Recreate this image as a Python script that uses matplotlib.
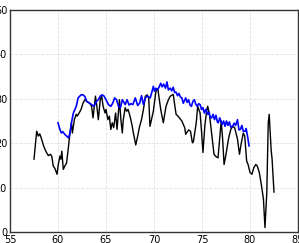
import numpy as np
import matplotlib.pyplot as plt

# black series
bx = [57.5, 57.78, 57.95, 58.1, 58.25, 58.5, 58.65, 58.8, 59.0, 59.2, 59.35, 59.5, 59.7, 59.9,
      60.03, 60.2, 60.3, 60.4, 60.55, 60.7, 60.9, 61.1, 61.25, 61.4, 61.5, 61.7, 61.9, 62.0,
      62.2, 62.4, 62.6, 62.8, 63.0, 63.3, 63.5, 63.65, 63.75, 63.9, 64.05, 64.2, 64.4, 64.55,
      64.7, 64.9, 65.0, 65.2, 65.35, 65.5, 65.65, 65.8, 66.0, 66.15, 66.4, 66.55, 66.7, 66.8,
      67.0, 67.15, 67.3, 67.5, 67.7, 67.85, 68.1, 68.3, 68.5, 68.7, 68.9, 69.1, 69.3, 69.45,
      69.58, 69.93, 70.2, 70.4, 70.7, 70.97, 71.25, 71.5, 71.7, 72.0, 72.3, 72.5, 72.9, 73.2,
      73.3, 73.6, 73.8, 74.0, 74.1, 74.4, 74.55, 74.8, 74.95, 75.1, 75.3, 75.5, 75.6, 75.8,
      76.04, 76.25, 76.45, 76.67, 76.9, 77.0, 77.15, 77.3, 77.5, 77.75, 78.0, 78.2, 78.4,
      78.7, 78.9, 79.1, 79.3, 79.45, 79.65, 79.8, 80.0, 80.2, 80.4, 80.6, 80.75, 80.97, 81.2,
      81.4, 81.56, 81.75, 81.9, 82.0, 82.2, 82.3, 82.5]
by = [16.4, 22.7, 21.6, 22.1, 21.2, 19.4, 18.6, 17.9, 17.2, 17.5, 17.1, 14.9, 14.2, 13.0,
      15.2, 17.1, 16.4, 18.2, 14.1, 14.8, 15.6, 19.4, 22.3, 24.6, 22.3, 25.3, 26.5, 26.1,
      26.8, 27.6, 29.0, 29.8, 29.4, 29.0, 28.3, 25.7, 27.6, 30.6, 28.3, 25.3, 29.8, 30.6,
      28.3, 26.8, 27.6, 25.3, 26.1, 23.1, 24.6, 23.5, 26.8, 23.1, 29.8, 25.3, 22.3, 25.3,
      28.0, 27.2, 27.6, 26.1, 24.2, 22.3, 19.6, 21.6, 23.8, 25.3, 27.6, 30.6, 30.9, 30.2,
      23.8, 27.2, 31.7, 32.2, 27.6, 24.6, 28.3, 29.8, 30.6, 31.0, 26.5, 26.1, 25.0, 23.5,
      22.0, 23.0, 22.7, 20.1, 20.3, 24.6, 28.3, 26.8, 22.7, 17.9, 24.0, 27.6, 28.3, 26.1,
      21.6, 17.5, 17.0, 16.7, 22.3, 25.0, 20.9, 15.2, 17.5, 20.9, 23.1, 23.8, 23.5,
      20.9, 17.5, 20.1, 22.3, 21.6, 16.0, 15.2, 13.4, 13.0, 14.5, 15.2, 14.9, 13.4, 10.4,
      7.4, 1.0, 8.9, 24.6, 26.5, 18.6, 16.4, 9.0]

# blue series
ux = [60.0, 60.2, 60.35, 60.5, 60.7, 60.85, 61.1, 61.25, 61.4, 61.6, 61.9, 62.1, 62.4, 62.6,
      62.8, 63.0, 63.3, 63.5, 63.75, 64.0, 64.2, 64.4, 64.6, 64.8, 65.0, 65.25, 65.5, 65.7,
      65.9, 66.1, 66.3, 66.5, 66.7, 67.0, 67.2, 67.4, 67.6, 67.8, 68.05, 68.3, 68.5, 68.7,
      68.9, 69.1, 69.3, 69.6, 69.75, 69.93, 70.05, 70.2, 70.35, 70.5, 70.7, 70.85, 71.0,
      71.2, 71.35, 71.5, 71.7, 71.85, 72.0, 72.15, 72.3, 72.45, 72.6, 72.75, 72.9, 73.05,
      73.3, 73.45, 73.6, 73.75, 73.9, 74.05, 74.2, 74.35, 74.5, 74.65, 74.8, 74.95, 75.1,
      75.25, 75.4, 75.6, 75.75, 75.85, 76.0, 76.15, 76.3, 76.45, 76.6, 76.7, 76.85, 77.1,
      77.25, 77.4, 77.55, 77.7, 77.85, 78.0, 78.2, 78.35, 78.5, 78.7, 78.85, 79.0, 79.15,
      79.3, 79.5, 79.6, 79.75, 79.9]
uy = [24.6, 23.1, 22.3, 22.6, 22.0, 21.7, 21.2, 22.3, 24.6, 26.8, 28.3, 30.2, 30.9, 30.9,
      30.5, 29.4, 29.0, 28.7, 28.3, 29.4, 29.8, 30.6, 30.9, 30.6, 29.8, 28.7, 28.3, 29.0,
      30.2, 29.8, 28.3, 28.0, 29.8, 28.7, 29.8, 28.6, 28.9, 28.7, 30.2, 28.5, 29.0, 30.7,
      28.7, 30.2, 30.6, 30.2, 31.3, 32.8, 31.7, 32.4, 32.0, 32.5, 33.5, 32.7, 33.3,
      32.4, 33.8, 32.0, 32.4, 31.8, 32.6, 31.4, 31.5, 30.7, 31.2, 30.4, 30.2, 29.0,
      30.2, 29.2, 29.8, 28.6, 28.3, 29.4, 29.8, 28.8, 28.3, 28.9, 28.7, 27.6, 28.0,
      26.8, 27.6, 26.5, 27.0, 25.8, 25.7, 26.5, 25.3, 26.3, 24.8, 24.6, 25.7, 24.2,
      25.0, 23.8, 25.0, 24.0, 24.8, 23.6, 23.9, 24.5, 24.0, 25.3, 23.0, 23.1, 24.0,
      22.7, 22.7, 23.3, 21.5, 19.4]

fig = plt.figure(figsize=(2.99, 2.43), dpi=100)
ax = fig.add_axes([10/299, 11/243, 288/299, 222/243])

ax.plot(bx, by, color='k', lw=1.0)
ax.plot(ux, uy, color='b', lw=1.2)

ax.set_xlim(55, 85)
ax.set_ylim(0, 50)
ax.set_xticks(np.arange(55, 86, 5))
ax.set_yticks(np.arange(0, 51, 10))
ax.grid(True, ls='--', color='#e0e0e0', lw=0.6)
ax.tick_params(labelsize=7, length=0, pad=2)
for s in ax.spines.values():
    s.set_linewidth(1.0)
    s.set_color('#333333')

fig.savefig('out.png', dpi=100)
